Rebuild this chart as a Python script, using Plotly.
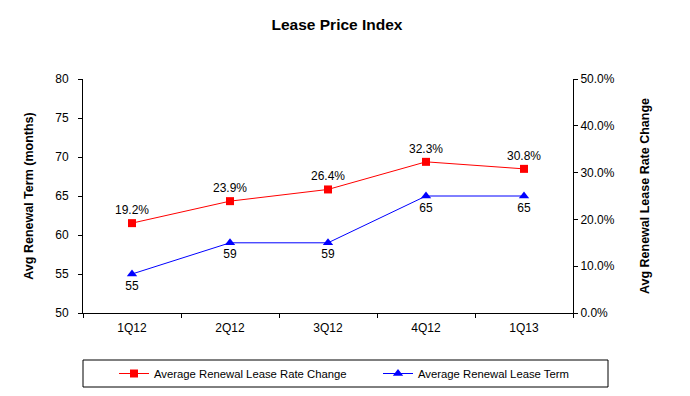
import plotly.graph_objects as go

categories = ["1Q12", "2Q12", "3Q12", "4Q12", "1Q13"]
rate_change = [0.192, 0.239, 0.264, 0.323, 0.308]
renewal_term = [55, 59, 59, 65, 65]
rate_labels = ["19.2%", "23.9%", "26.4%", "32.3%", "30.8%"]
term_labels = ["55", "59", "59", "65", "65"]

FONT = "Liberation Sans, Arial, sans-serif"
W, H = 682, 388   # page body adds 8px offset

fig = go.Figure()
fig.add_trace(go.Scatter(
    x=categories, y=rate_change, yaxis="y2", name="Average Renewal Lease Rate Change",
    mode="lines+markers+text", text=rate_labels, textposition="top center",
    line=dict(color="#FF0000", width=1), marker=dict(symbol="square", size=8, color="#FF0000"),
    textfont=dict(family=FONT, size=12, color="black"), cliponaxis=False, legend="legend",
))
fig.add_trace(go.Scatter(
    x=categories, y=renewal_term, yaxis="y", name="Average Renewal Lease Term",
    mode="lines+markers+text", text=term_labels, textposition="bottom center",
    line=dict(color="#0000FF", width=1), marker=dict(symbol="triangle-up", size=9, color="#0000FF"),
    textfont=dict(family=FONT, size=12, color="black"), cliponaxis=False, legend="legend2",
))

leg_common = dict(orientation="h", xref="container", yref="container", xanchor="left",
                  y=1 - 365.5 / H, yanchor="middle", font=dict(family=FONT, size=11.3),
                  bgcolor="rgba(0,0,0,0)", borderwidth=0)

fig.update_layout(
    width=W, height=H,
    margin=dict(l=75, r=117, t=71, b=83, autoexpand=False),
    paper_bgcolor="white", plot_bgcolor="white",
    font=dict(family=FONT, size=12, color="black"),
    title=dict(text="<b>Lease Price Index</b>", x=329 / W, xanchor="center", y=1 - 17 / H, yanchor="middle",
               font=dict(family=FONT, size=15.5, color="black")),
    xaxis=dict(type="category", range=[-0.5, 4.5], showline=True, linecolor="black", linewidth=1,
               ticks="outside", tickson="boundaries", ticklen=4, tickcolor="black", automargin=False,
               showgrid=False, zeroline=False, tickfont=dict(size=12), ticklabelstandoff=4),
    yaxis=dict(range=[50, 80], dtick=5, showline=True, linecolor="black", linewidth=1, automargin=False,
               ticks="outside", ticklen=4, tickcolor="black", showgrid=False, zeroline=False,
               ticklabelstandoff=7,
               title=dict(text="<b>Avg Renewal Term (months)</b>", font=dict(size=12.5), standoff=18)),
    yaxis2=dict(range=[0, 0.5], dtick=0.1, tickformat=".1%", overlaying="y", side="right",
                showline=True, linecolor="black", linewidth=1, ticks="outside", ticklen=4, automargin=False,
                tickcolor="black", showgrid=False, zeroline=False,
                title=dict(text="<b>Avg Renewal Lease Rate Change</b>", font=dict(size=12.5), standoff=26)),
    yaxis3=dict(range=[0, 0.5], dtick=0.1, overlaying="y", side="right", showticklabels=False,
                showline=False, ticks="inside", ticklen=4, tickcolor="black", automargin=False,
                showgrid=False, zeroline=False),
    showlegend=True,
    legend=dict(x=106 / W, **leg_common),
    legend2=dict(x=370 / W, **leg_common),
    shapes=[dict(type="rect", xref="paper", yref="paper",
                 x0=0, x1=(608 - 83) / 490, y0=(313 - 387) / 234, y1=(313 - 360) / 234,
                 line=dict(color="black", width=1), fillcolor="rgba(0,0,0,0)")],
)

fig.write_html("out.html")
